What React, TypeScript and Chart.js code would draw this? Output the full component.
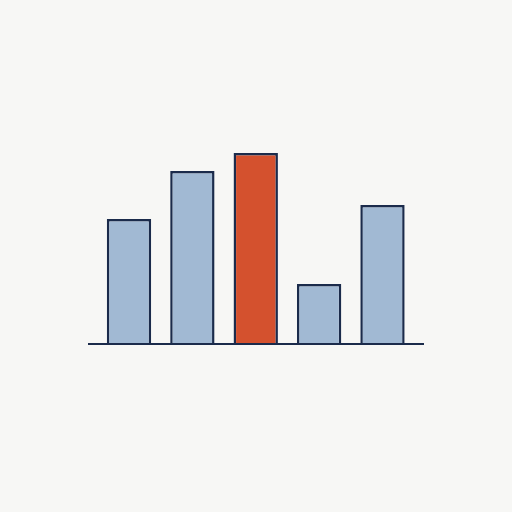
import { useEffect, useRef } from 'react'
import Chart from 'chart.js/auto'

const categories = ['A', 'B', 'C', 'D', 'E']
const values = [62.5, 86.5, 95.5, 30, 69.5]
const highlightIndex = 2

const BAR_BLUE = '#a1b9d3'
const BAR_RED = '#d4512e'
const NAVY = '#1b2b4b'
const BG = '#f7f7f5'

const baselinePlugin = {
  id: 'baseline',
  afterDatasetsDraw(chart: any) {
    const { ctx, chartArea } = chart
    const y = chart.scales.y.getPixelForValue(0)
    ctx.save()
    ctx.strokeStyle = NAVY
    ctx.lineWidth = 2
    ctx.beginPath()
    ctx.moveTo(chartArea.left, y)
    ctx.lineTo(chartArea.right, y)
    ctx.stroke()
    ctx.restore()
  },
}

export default function App() {
  const canvasRef = useRef<HTMLCanvasElement>(null)

  useEffect(() => {
    document.body.style.margin = '0'
    document.body.style.background = BG
    if (!canvasRef.current) return
    const chart = new Chart(canvasRef.current, {
      type: 'bar',
      data: {
        labels: categories,
        datasets: [
          {
            data: values.map((v, i) => ({ x: i + 1, y: v })),
            backgroundColor: values.map((_, i) => (i === highlightIndex ? BAR_RED : BAR_BLUE)),
            borderColor: NAVY,
            borderWidth: 2.5,
            borderSkipped: 'start',
            categoryPercentage: 1,
            barPercentage: 0.7,
          },
        ],
      },
      options: {
        responsive: false,
        animation: false,
        layout: { padding: { left: 88, right: 88, top: 144, bottom: 168 } },
        scales: {
          x: { type: 'linear', min: 0.353, max: 5.655, offset: false, display: false },
          y: { min: 0, max: 100, display: false },
        },
        plugins: { legend: { display: false }, tooltip: { enabled: false } },
      },
      plugins: [baselinePlugin],
    })
    return () => chart.destroy()
  }, [])

  return (
    <div style={{ width: 512, height: 512, background: BG }}>
      <canvas ref={canvasRef} width={512} height={512} />
    </div>
  )
}
